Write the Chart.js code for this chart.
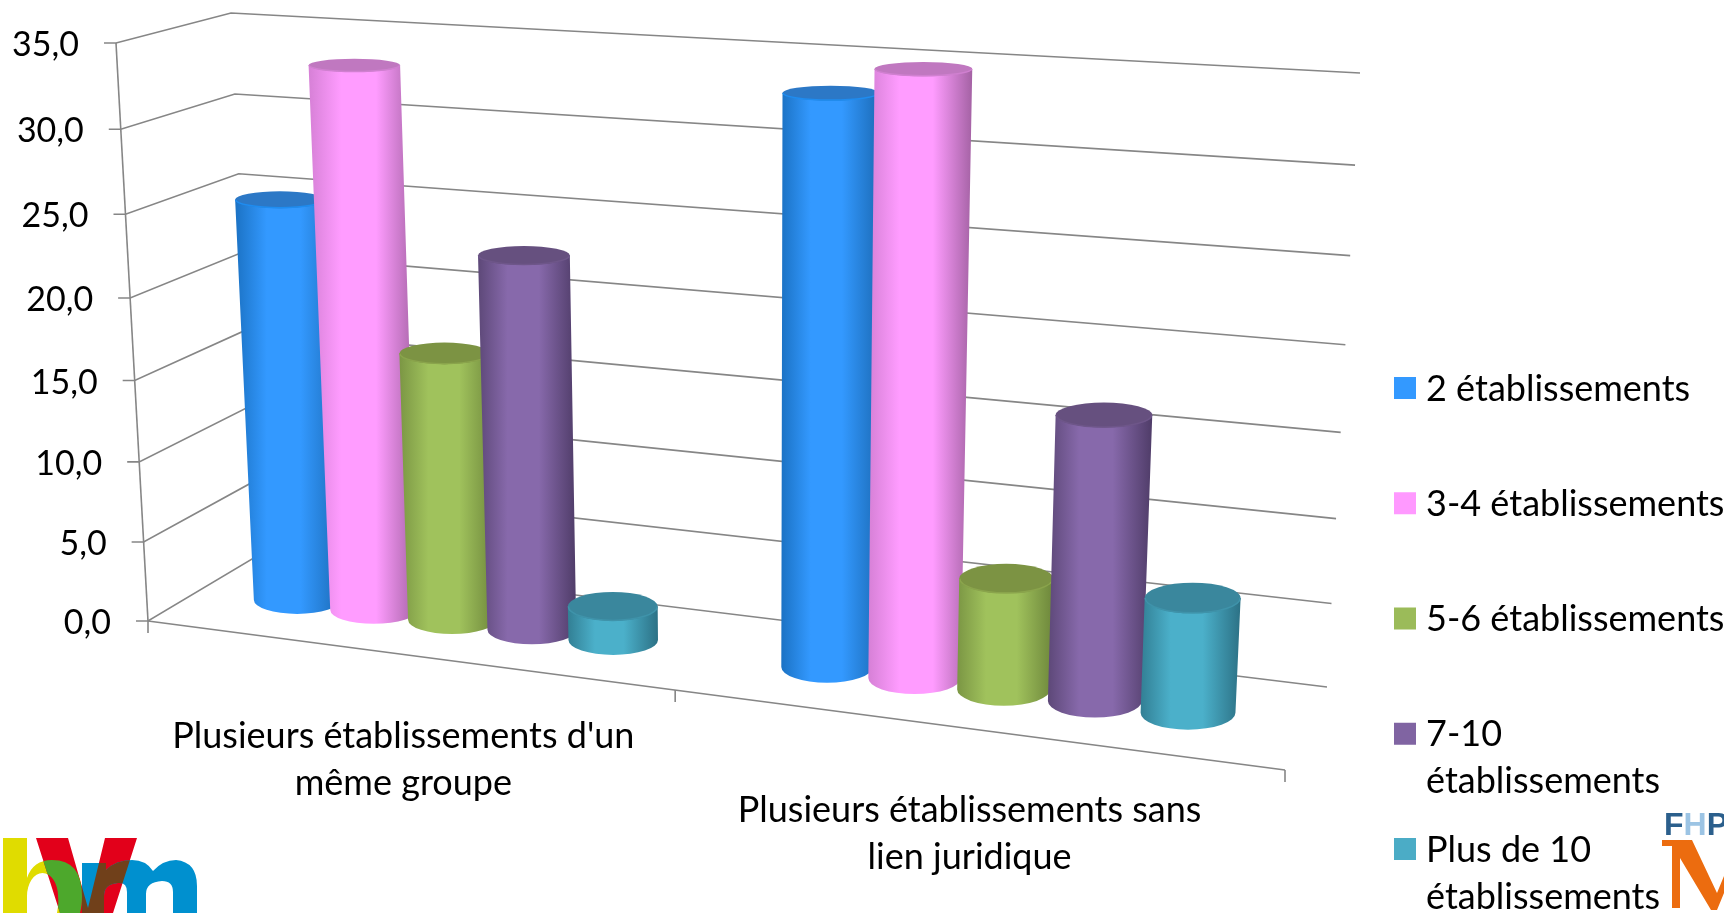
<!DOCTYPE html>
<html lang="fr">
<head>
<meta charset="utf-8">
<title>Établissements</title>
<script src="https://cdn.jsdelivr.net/npm/chart.js@4"></script>
<style>
  html, body { margin: 0; padding: 0; background: #fff; overflow: hidden; }
  #wrap { position: relative; width: 1724px; height: 913px; overflow: hidden; }
  canvas { position: absolute; left: 0; top: 0; }
  svg { position: absolute; left: 0; top: 0; }
</style>
</head>
<body>
<div id="wrap">
  <canvas id="chart" width="1724" height="913"></canvas>
  <!-- the two logos cut by the picture edge -->
  <svg width="1724" height="913">
    <defs>
      <path id="bowl" d="M27 913 V878 Q33 860 52 860 Q82 860 82 896 Q82 906 80 913 H57 Q59 905 58 896 A15.5 23 0 0 0 27 896 V913 Z"/>
      <path id="vee" d="M36 838 H68 L88 908 L105 838 H137 L113 913 H60 Z"/>
      <path id="em" d="M82 863 H106 V870 Q116 860 132 860 Q146 860 153 871 Q163 860 176 860 Q197 862 197 886 V913 H173 V892 Q173 881 162 881 Q146 882 146 894 V913 H127 V892 Q127 882 118 883 Q104 884 104 896 V913 H82 Z"/>
      <clipPath id="clipVee"><use href="#vee"/></clipPath>
    </defs>
    <rect x="3" y="838" width="24" height="75" fill="#e0dc00"/>
    <use href="#bowl" fill="#e0dc00"/>
    <use href="#vee" fill="#e2001a"/>
    <use href="#em" fill="#0090cf"/>
    <g clip-path="url(#clipVee)">
      <use href="#bowl" fill="#4da82c"/>
      <use href="#em" fill="#70401a"/>
    </g>
    <text x="1664" y="835" font-family="Liberation Sans" font-weight="700" font-size="32" fill="#2b5f8c">F<tspan fill="#9cc4e4">H</tspan>P</text>
    <path d="M1662 840 H1692 L1717 893 L1724 876 V893 L1717 910 H1711 L1680 858 V908 H1672 V846 H1662 Z" fill="#ec6c0f"/>
  </svg>
</div>
<script>
// Values
const categories = [["Plusieurs établissements d'un", "même groupe"], ["Plusieurs établissements sans", "lien juridique"]];
const seriesLabels = [["2 établissements"], ["3-4 établissements"], ["5-6 établissements"], ["7-10", "établissements"], ["Plus de 10", "établissements"]];
const deuxEtab = [25.1, 33.4];
const troisQuatre = [33.4, 35.0];
const cinqSix = [16.6, 6.6];
const septDix = [22.9, 16.6];
const plusDeDix = [2.1, 6.7];
const yMax = 35;
const yStep = 5;

const seriesValues = [deuxEtab, troisQuatre, cinqSix, septDix, plusDeDix];

// Colours of each cylinder: legend, light, left edge, right edge, lid
const seriesColors = [
  { legend: '#3399ff', mid: '#3399ff', left: '#1b72c4', right: '#1c6cb8', lid: '#2c78c6', rim: '#1e8cf0' },
  { legend: '#ff99ff', mid: '#ff9cff', left: '#d680d6', right: '#a462a4', lid: '#c078c0', rim: '#d080d0' },
  { legend: '#9bbb59', mid: '#a0c25c', left: '#7b9644', right: '#6d863b', lid: '#7c9343', rim: '#8aa44c' },
  { legend: '#8064a2', mid: '#8769ab', left: '#5d4878', right: '#4f3c68', lid: '#66507f', rim: '#6e5689' },
  { legend: '#4bacc6', mid: '#4bb0ca', left: '#327f94', right: '#2c7185', lid: '#3a879d', rim: '#3f93aa' }
];

const FONT = '36px Lato';
const TICK_FONT = '34px Lato';
const GREY = '#868686';

// Perspective of the 3D box, corners on screen: [0,0], [1,0], [1,1], [0,1]
const barPlane = makeHomography([202, 588], [1309, 728], [1342, 92], [173, 28]);
const backWall = makeHomography([257, 556], [1327, 687], [1360, 73], [231, 13]);
const frontWall = makeHomography([148, 621], [1285, 770], [1318, 105], [116, 43]);

// Square to quad mapping
function makeHomography(p0, p1, p2, p3) {
  const dx1 = p1[0] - p2[0], dx2 = p3[0] - p2[0], sx = p0[0] - p1[0] + p2[0] - p3[0];
  const dy1 = p1[1] - p2[1], dy2 = p3[1] - p2[1], sy = p0[1] - p1[1] + p2[1] - p3[1];
  const det = dx1 * dy2 - dx2 * dy1;
  const g = (sx * dy2 - dx2 * sy) / det;
  const h = (dx1 * sy - sx * dy1) / det;
  const a = p1[0] - p0[0] + g * p1[0], b = p3[0] - p0[0] + h * p3[0];
  const d = p1[1] - p0[1] + g * p1[1], e = p3[1] - p0[1] + h * p3[1];
  return (u, v) => {
    const w = g * u + h * v + 1;
    return [(a * u + b * v + p0[0]) / w, (d * u + e * v + p0[1]) / w];
  };
}

function line(ctx, pts) {
  ctx.beginPath();
  pts.forEach((p, i) => i ? ctx.lineTo(p[0], p[1]) : ctx.moveTo(p[0], p[1]));
  ctx.stroke();
}

// Lids get flatter the higher they are on screen
function lidRatio(y) {
  return 0.145 + (0.32 - 0.145) * (y - 68) / (600 - 68);
}

function drawCylinder(chart, bar, colors) {
  const ctx = chart.ctx, area = chart.chartArea;
  const toU = x => (x - area.left) / (area.right - area.left);
  const toV = y => (area.bottom - y) / (area.bottom - area.top);
  const half = bar.width / 2;
  const tl = barPlane(toU(bar.x - half), toV(bar.y));
  const tr = barPlane(toU(bar.x + half), toV(bar.y));
  const bl = barPlane(toU(bar.x - half), toV(bar.base));
  const br = barPlane(toU(bar.x + half), toV(bar.base));
  const top = barPlane(toU(bar.x), toV(bar.y));
  const bottom = barPlane(toU(bar.x), toV(bar.base));
  // radius grows a bit less than the plane towards the right
  const shrink = 1.06 - 0.15 * toU(bar.x);
  const topRx = (tr[0] - tl[0]) / 2 * shrink, botRx = (br[0] - bl[0]) / 2 * shrink;
  const topRy = topRx * lidRatio(top[1]), botRy = botRx * lidRatio(bottom[1]);

  const grad = ctx.createLinearGradient(Math.min(top[0] - topRx, bottom[0] - botRx), 0, Math.max(top[0] + topRx, bottom[0] + botRx), 0);
  grad.addColorStop(0, colors.left);
  grad.addColorStop(0.3, colors.mid);
  grad.addColorStop(0.62, colors.mid);
  grad.addColorStop(1, colors.right);

  ctx.beginPath();
  ctx.moveTo(top[0] - topRx, top[1]);
  ctx.lineTo(bottom[0] - botRx, bottom[1]);
  ctx.ellipse(bottom[0], bottom[1], botRx, botRy, 0, Math.PI, 0, true);
  ctx.lineTo(top[0] + topRx, top[1]);
  ctx.closePath();
  ctx.fillStyle = grad;
  ctx.fill();

  ctx.beginPath();
  ctx.ellipse(top[0], top[1], topRx, topRy, 0, 0, Math.PI * 2);
  ctx.fillStyle = colors.lid;
  ctx.fill();
  ctx.strokeStyle = colors.rim;
  ctx.lineWidth = 1.5;
  ctx.beginPath();
  ctx.ellipse(top[0], top[1], topRx - 0.5, topRy - 0.5, 0, Math.PI, 0, true);
  ctx.stroke();
}

// Draws the box, the ticks and the legend around the library's scales
const box3d = {
  id: 'box3d',
  beforeDatasetsDraw(chart) {
    const ctx = chart.ctx, xs = chart.scales.x, ys = chart.scales.y;
    ctx.save();
    ctx.strokeStyle = GREY;
    ctx.lineWidth = 1.6;

    // grid lines around the two walls
    ys.ticks.forEach(t => {
      const v = t.value / yMax;
      const p = frontWall(0, v);
      line(ctx, [[p[0] - 12, p[1]], p, backWall(0, v), backWall(1, v)]);
    });
    line(ctx, [frontWall(0, 0), frontWall(0, 1)]);
    line(ctx, [frontWall(0, 0), frontWall(1, 0)]);

    // ticks under the floor edge, between categories
    const n = xs.ticks.length;
    for (let i = 0; i <= n; i++) {
      const p = frontWall(i / n, 0);
      line(ctx, [p, [p[0], p[1] + 12]]);
    }

    ctx.fillStyle = '#000';
    ctx.textBaseline = 'middle';

    ctx.font = TICK_FONT;
    ctx.textAlign = 'right';
    ys.ticks.forEach(t => {
      const p = frontWall(0, t.value / yMax);
      ctx.fillText(t.label, p[0] - 37, p[1] + 2);
    });

    ctx.font = FONT;
    ctx.textAlign = 'center';
    xs.ticks.forEach((t, i) => {
      const u = (xs.getPixelForTick(i) - chart.chartArea.left) / chart.chartArea.width;
      const p = frontWall(u, 0);
      categories[i].forEach((txt, j) => ctx.fillText(txt, p[0] + 1, p[1] + 82 + j * 47));
    });

    ctx.textAlign = 'left';
    chart.data.datasets.forEach((ds, i) => {
      const y = 389 + i * 115.25;
      ctx.fillStyle = seriesColors[i].legend;
      ctx.fillRect(1394, y - 12, 22, 22);
      ctx.fillStyle = '#000';
      ds.labelLines.forEach((txt, j) => ctx.fillText(txt, 1426, y + j * 47));
    });
    ctx.restore();
  },
  // the library paints flat bars, we paint cylinders instead
  beforeDatasetDraw() {
    return false;
  },
  afterDatasetsDraw(chart) {
    chart.data.labels.forEach((_, c) => {
      chart.data.datasets.forEach((ds, s) => {
        drawCylinder(chart, chart.getDatasetMeta(s).data[c], seriesColors[s]);
      });
    });
  }
};

new Chart(document.getElementById('chart').getContext('2d'), {
  type: 'bar',
  data: {
    labels: categories,
    datasets: seriesValues.map((values, i) => ({
      label: seriesLabels[i].join(' '),
      labelLines: seriesLabels[i],
      data: values,
      backgroundColor: seriesColors[i].legend
    }))
  },
  options: {
    responsive: false,
    animation: false,
    layout: { padding: 0 },
    datasets: { bar: { categoryPercentage: 0.765, barPercentage: 1.09 } },
    plugins: { legend: { display: false }, tooltip: { enabled: false } },
    scales: {
      x: { display: false },
      y: {
        display: false,
        min: 0,
        max: yMax,
        ticks: { stepSize: yStep, callback: v => v.toFixed(1).replace('.', ',') }
      }
    }
  },
  plugins: [box3d]
});
</script>
</body>
</html>
